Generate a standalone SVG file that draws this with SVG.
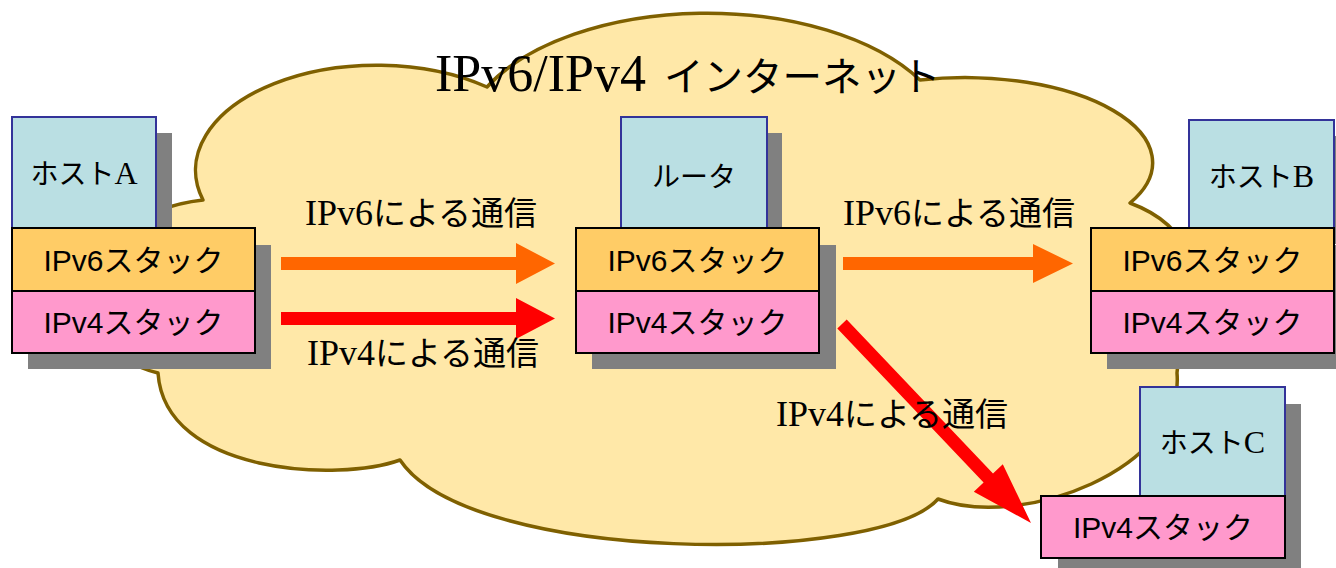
<svg xmlns="http://www.w3.org/2000/svg" width="1336" height="568" viewBox="0 0 1336 568">
<style>
.cloud{fill:#FFE8A8;stroke:#7F6000;stroke-width:3.5;stroke-linejoin:round}
.sh{fill:#808080}
.host{fill:#BADFE3;stroke:#333399;stroke-width:2}
.v6{fill:#FFCC66;stroke:#000;stroke-width:2}
.v4{fill:#FF99CC;stroke:#000;stroke-width:2}
.jp{font-family:"Noto Sans CJK JP",sans-serif}
.ser{font-family:"Liberation Serif","Noto Sans CJK JP",serif}
.stk{font-family:"Liberation Sans","Noto Sans CJK JP",sans-serif;font-size:30px;text-anchor:middle;fill:#000}
.hl{font-size:28px;text-anchor:middle;fill:#000}
.a6{fill:#FF6600}
.a4{fill:#FF0000}
</style>
<rect width="1336" height="568" fill="#fff"/>
<g id="cloud">
<path class="cloud" d="M203,200 A181,105 0 0 1 487,87 A245,132 0 0 1 920,80 A188,85 0 0 1 1130,203 C1230,240 1180,330 1177,373 C1185,470 1020,530 938,499 C880,565 470,565 400,460 C340,482 165,475 158,373 C60,350 70,215 203,200 Z"/>
<text y="91"><tspan class="ser" x="435" font-size="52">IPv6/IPv4 </tspan><tspan class="jp" dx="5" font-size="39.5">インターネット</tspan></text>
</g>
<g id="hostA">
<rect class="sh" x="28" y="133" width="144" height="111"/>
<rect class="host" x="12" y="117" width="144" height="111"/>
<text class="hl" x="84" y="184"><tspan class="jp">ホスト</tspan><tspan class="ser" font-size="32">A</tspan></text>
<rect class="sh" x="28" y="245" width="243" height="124"/>
<rect class="v6" x="12" y="228" width="243" height="63"/>
<rect class="v4" x="12" y="291" width="243" height="62"/>
<text class="stk" x="133.5" y="271">IPv6スタック</text>
<text class="stk" x="133.5" y="333">IPv4スタック</text>
</g>
<g id="router">
<rect class="sh" x="637" y="133" width="145" height="111"/>
<rect class="host" x="621" y="117" width="146" height="111"/>
<text class="hl jp" x="694" y="187">ルータ</text>
<rect class="sh" x="592" y="245" width="244" height="124"/>
<rect class="v6" x="576" y="228" width="243" height="63"/>
<rect class="v4" x="576" y="291" width="243" height="62"/>
<text class="stk" x="697.5" y="271">IPv6スタック</text>
<text class="stk" x="697.5" y="333">IPv4スタック</text>
</g>
<g id="hostB">
<rect class="sh" x="1205" y="136" width="145" height="108"/>
<rect class="host" x="1189" y="120" width="145" height="108"/>
<text class="hl" x="1261.5" y="187"><tspan class="jp">ホスト</tspan><tspan class="ser" font-size="32">B</tspan></text>
<rect class="sh" x="1107" y="245" width="243" height="124"/>
<rect class="v6" x="1091" y="228" width="243" height="63"/>
<rect class="v4" x="1091" y="291" width="243" height="62"/>
<text class="stk" x="1212.5" y="271">IPv6スタック</text>
<text class="stk" x="1212.5" y="333">IPv4スタック</text>
</g>
<g id="hostC">
<rect class="sh" x="1156" y="404" width="145" height="109"/>
<rect class="host" x="1140" y="387" width="145" height="109"/>
<text class="hl" x="1212.5" y="453"><tspan class="jp">ホスト</tspan><tspan class="ser" font-size="32">C</tspan></text>
<rect class="sh" x="1058" y="513" width="243" height="62"/>
<rect class="v4" x="1041" y="496" width="244" height="62"/>
<text class="stk" x="1163" y="538">IPv4スタック</text>
</g>
<g id="connectors">
<polygon class="a6" points="281,257 516,257 516,243 555,263.5 516,284 516,270 281,270"/>
<polygon class="a4" points="281,312 516,312 516,298 555,318.5 516,339 516,325 281,325"/>
<polygon class="a6" points="843,257 1033,257 1033,244 1073,263.5 1033,283 1033,270 843,270"/>
<polygon class="a4" points="846.7,319.5 993,473.5 1002.8,464.2 1031,523 973.8,491.8 983.6,482.5 837.3,328.5"/>
</g>
<g id="labels">
<text x="305" y="225"><tspan class="ser" font-size="36">IPv6</tspan><tspan class="jp" font-size="33">による通信</tspan></text>
<text x="307" y="365"><tspan class="ser" font-size="36">IPv4</tspan><tspan class="jp" font-size="33">による通信</tspan></text>
<text x="843" y="225"><tspan class="ser" font-size="36">IPv6</tspan><tspan class="jp" font-size="33">による通信</tspan></text>
<text x="776" y="426"><tspan class="ser" font-size="36">IPv4</tspan><tspan class="jp" font-size="33">による通信</tspan></text>
</g>
</svg>
